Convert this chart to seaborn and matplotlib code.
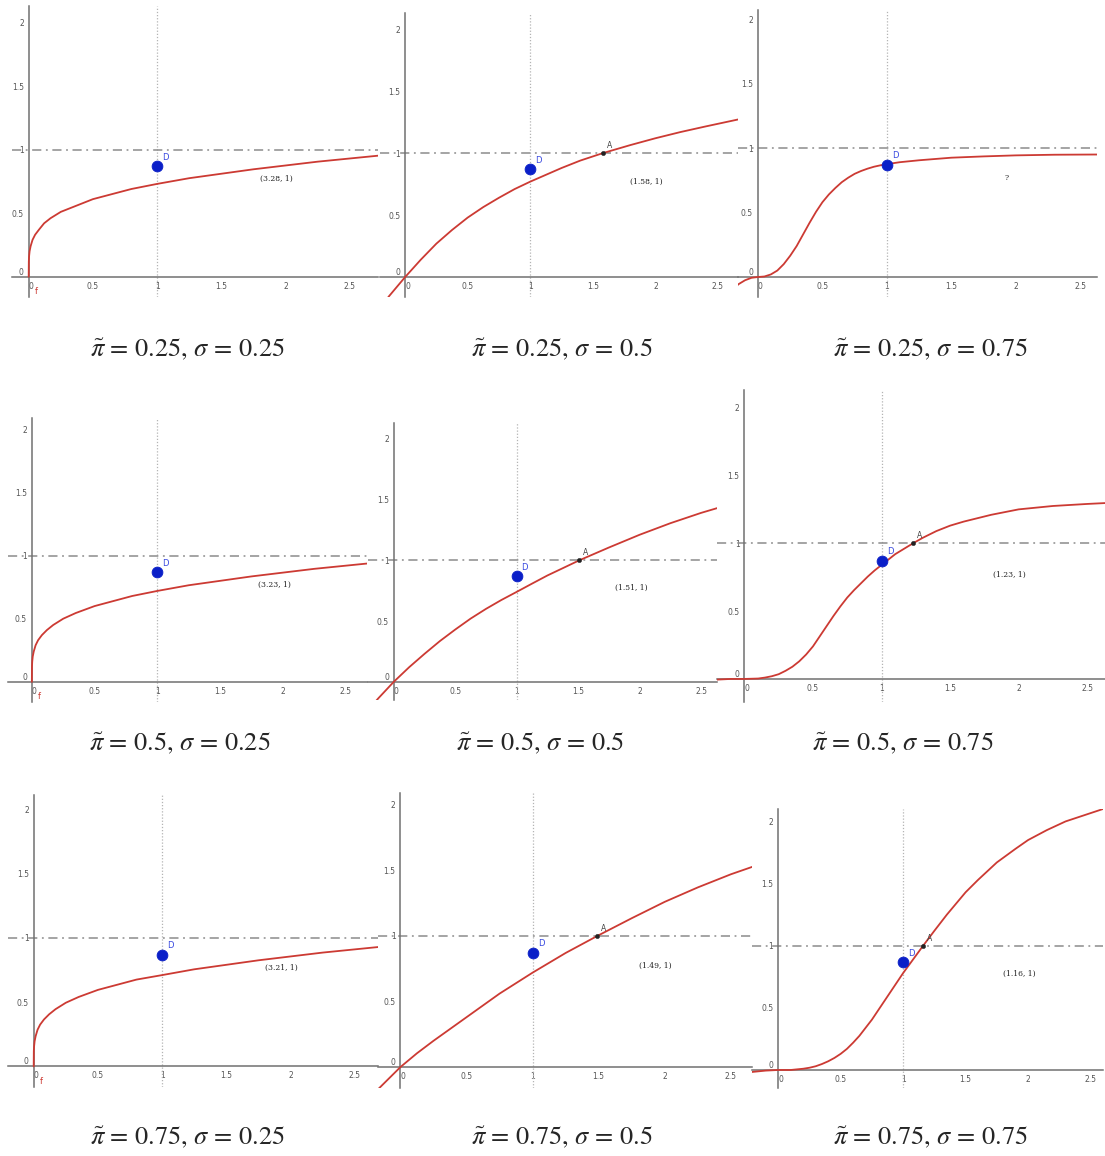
import matplotlib
matplotlib.use("Agg")
import matplotlib.pyplot as plt
import pandas as pd
import seaborn as sns

sns.set_style("white")

# parameter values of the 3x3 grid
pi_values = [0.25, 0.5, 0.75]
sigma_values = [0.25, 0.5, 0.75]

# point D, same in every panel
d_x = 1.0
d_y = 0.87

# x where the curve meets y = 1 (point A), None where not shown
a_x = [[None, 1.58, None],
       [None, 1.51, 1.23],
       [None, 1.49, 1.16]]
cross_labels = [["(3.28, 1)", "(1.58, 1)", "?"],
                ["(3.23, 1)", "(1.51, 1)", "(1.23, 1)"],
                ["(3.21, 1)", "(1.49, 1)", "(1.16, 1)"]]

# curves, sigma = 0.25
x_s25 = [0, 0.001, 0.003, 0.007, 0.015, 0.03, 0.05, 0.08, 0.12, 0.17, 0.25, 0.35, 0.5,
         0.65, 0.8, 1, 1.25, 1.5, 1.75, 2, 2.25, 2.5, 2.75]
y_p25_s25 = [0, 0.12, 0.16, 0.20, 0.24, 0.29, 0.33, 0.37, 0.42, 0.46, 0.51, 0.55, 0.61,
             0.65, 0.69, 0.73, 0.775, 0.81, 0.845, 0.875, 0.905, 0.93, 0.955]
y_p50_s25 = [0, 0.12, 0.16, 0.20, 0.24, 0.29, 0.33, 0.37, 0.41, 0.45, 0.50, 0.545, 0.60,
             0.64, 0.68, 0.72, 0.765, 0.80, 0.835, 0.865, 0.895, 0.92, 0.945]
y_p75_s25 = [0, 0.12, 0.155, 0.195, 0.235, 0.285, 0.325, 0.365, 0.405, 0.445, 0.495, 0.54, 0.595,
             0.635, 0.675, 0.71, 0.755, 0.79, 0.825, 0.855, 0.885, 0.91, 0.935]

# sigma = 0.5
x_p25_s50 = [-0.25, -0.125, 0, 0.125, 0.25, 0.375, 0.5, 0.625, 0.75, 0.875, 1, 1.125,
             1.25, 1.4, 1.58, 1.8, 2, 2.2, 2.4, 2.7]
y_p25_s50 = [-0.31, -0.15, 0, 0.14, 0.27, 0.38, 0.48, 0.565, 0.64, 0.71, 0.77, 0.825,
             0.88, 0.94, 1.0, 1.065, 1.12, 1.17, 1.215, 1.28]
x_p50_s50 = [-0.25, -0.125, 0, 0.125, 0.25, 0.375, 0.5, 0.625, 0.75, 0.875, 1, 1.125,
             1.25, 1.375, 1.51, 1.75, 2, 2.25, 2.5, 2.7]
y_p50_s50 = [-0.28, -0.135, 0, 0.12, 0.23, 0.335, 0.43, 0.52, 0.6, 0.673, 0.74, 0.808,
             0.875, 0.935, 1.0, 1.105, 1.21, 1.305, 1.39, 1.45]
x_p75_s50 = [-0.25, -0.125, 0, 0.125, 0.25, 0.375, 0.5, 0.625, 0.75, 0.875, 1, 1.125,
             1.25, 1.37, 1.49, 1.75, 2, 2.25, 2.5, 2.7]
y_p75_s50 = [-0.25, -0.125, 0, 0.105, 0.2, 0.29, 0.38, 0.47, 0.56, 0.64, 0.72, 0.795,
             0.87, 0.935, 1.0, 1.135, 1.26, 1.37, 1.47, 1.54]

# sigma = 0.75
x_p25_s75 = [-0.2, -0.15, -0.1, -0.05, 0, 0.05, 0.1, 0.15, 0.2, 0.25, 0.3, 0.35, 0.4, 0.45,
             0.5, 0.55, 0.6, 0.65, 0.7, 0.75, 0.8, 0.85, 0.9, 0.95, 1.0, 1.1, 1.25, 1.5,
             1.75, 2.0, 2.3, 2.7]
y_p25_s75 = [-0.1, -0.055, -0.025, -0.006, 0, 0.004, 0.02, 0.05, 0.10, 0.165, 0.24, 0.33,
             0.42, 0.505, 0.58, 0.64, 0.69, 0.735, 0.77, 0.8, 0.822, 0.84, 0.855, 0.866,
             0.875, 0.89, 0.905, 0.925, 0.935, 0.943, 0.948, 0.95]
x_p50_s75 = [-0.2, -0.1, 0, 0.1, 0.15, 0.2, 0.25, 0.3, 0.35, 0.4, 0.45, 0.5, 0.55, 0.6,
             0.65, 0.7, 0.75, 0.8, 0.85, 0.9, 0.95, 1.0, 1.1, 1.23, 1.3, 1.4, 1.5, 1.6,
             1.8, 2.0, 2.25, 2.5, 2.7]
y_p50_s75 = [-0.005, 0, 0, 0.003, 0.01, 0.02, 0.035, 0.06, 0.09, 0.13, 0.18, 0.24, 0.315,
             0.39, 0.465, 0.535, 0.60, 0.655, 0.705, 0.755, 0.80, 0.84, 0.92, 1.0, 1.04,
             1.09, 1.13, 1.16, 1.21, 1.25, 1.275, 1.29, 1.30]
x_p75_s75 = [-0.25, -0.1, 0, 0.1, 0.2, 0.25, 0.3, 0.35, 0.4, 0.45, 0.5, 0.55, 0.6, 0.65,
             0.7, 0.75, 0.8, 0.85, 0.9, 0.95, 1.0, 1.08, 1.16, 1.25, 1.35, 1.5, 1.6, 1.75,
             1.9, 2.0, 2.15, 2.3, 2.45, 2.6]
y_p75_s75 = [-0.02, -0.005, 0, 0, 0.01, 0.018, 0.03, 0.048, 0.07, 0.097, 0.13, 0.17, 0.22,
             0.275, 0.34, 0.405, 0.48, 0.555, 0.63, 0.705, 0.78, 0.89, 1.0, 1.12, 1.25,
             1.43, 1.53, 1.67, 1.78, 1.85, 1.93, 2.0, 2.05, 2.1]

curves = [[(x_s25, y_p25_s25), (x_p25_s50, y_p25_s50), (x_p25_s75, y_p25_s75)],
          [(x_s25, y_p50_s25), (x_p50_s50, y_p50_s50), (x_p50_s75, y_p50_s75)],
          [(x_s25, y_p75_s25), (x_p75_s50, y_p75_s50), (x_p75_s75, y_p75_s75)]]

# layout: panel box in pixels (left, top, right, bottom) and data limits
W, H = 1105, 1156
boxes = [[(12, 6, 378, 297), (380, 13, 738, 297), (738, 10, 1097, 297)],
         [(8, 418, 367, 702), (368, 423, 717, 700), (717, 390, 1105, 702)],
         [(8, 795, 378, 1087), (378, 793, 752, 1088), (752, 809, 1103, 1088)]]
xlims = [[(-0.13, 2.72), (-0.2, 2.66), (-0.155, 2.63)],
         [(-0.19, 2.67), (-0.21, 2.63), (-0.2, 2.63)],
         [(-0.2, 2.68), (-0.17, 2.66), (-0.21, 2.6)]]
ylims = [[(-0.16, 2.13), (-0.16, 2.13), (-0.155, 2.07)],
         [(-0.16, 2.09), (-0.15, 2.13), (-0.17, 2.13)],
         [(-0.16, 2.11), (-0.16, 2.09), (-0.145, 2.1)]]
caption_pos = [[(187, 350), (562, 350), (930, 350)],
               [(180, 744), (540, 744), (903, 744)],
               [(187, 1138), (562, 1138), (930, 1138)]]

RED = "#cc3a33"
AXIS = "#707070"

fig = plt.figure(figsize=(W / 100, H / 100), dpi=100)

for r in range(3):
    for c in range(3):
        left, top, right, bottom = boxes[r][c]
        ax = fig.add_axes([left / W, 1 - bottom / H, (right - left) / W, (bottom - top) / H])
        ax.set_facecolor("none")
        ax.set_xlim(*xlims[r][c])
        ax.set_ylim(*ylims[r][c])

        # geogebra style axes through the origin
        for side in ["top", "right"]:
            ax.spines[side].set_visible(False)
        for side in ["left", "bottom"]:
            ax.spines[side].set_position(("data", 0))
            ax.spines[side].set_color(AXIS)
            ax.spines[side].set_linewidth(1.1)
        ax.set_xticks([0, 0.5, 1, 1.5, 2, 2.5])
        ax.set_yticks([0, 0.5, 1, 1.5, 2])
        ax.set_xticklabels(["0", "0.5", "1", "1.5", "2", "2.5"])
        ax.set_yticklabels(["0", "0.5", "1", "1.5", "2"])
        ax.tick_params(direction="inout", length=3, width=0.6, colors=AXIS,
                       labelsize=5.5, labelcolor="#555555", pad=2)
        ax.get_xticklabels()[0].set_ha("left")
        ax.get_yticklabels()[0].set_va("bottom")

        ax.axvline(1, color="#b4b4b4", lw=0.9, ls=(0, (1, 1.5)), zorder=1)
        ax.axhline(1, color="#8c8c8c", lw=1.1, ls=(0, (6, 3, 1.2, 3)), zorder=1)

        cx, cy = curves[r][c]
        df = pd.DataFrame({"x": cx, "y": cy})
        sns.lineplot(data=df, x="x", y="y", ax=ax, color=RED, lw=1.3,
                     estimator=None, sort=False, zorder=3)

        sns.scatterplot(x=[d_x], y=[d_y], ax=ax, color="#0a1fc8", s=60,
                        edgecolor="#0a1fc8", zorder=5)
        ax.text(d_x + 0.04, d_y + 0.05, "D", color="#3a4ae0", fontsize=6, zorder=6)

        if a_x[r][c] is not None:
            sns.scatterplot(x=[a_x[r][c]], y=[1], ax=ax, color="#222222", s=10,
                            edgecolor="#222222", zorder=5)
            ax.text(a_x[r][c] + 0.03, 1.04, "A", color="#444444", fontsize=5.5, zorder=6)

        if c == 0:
            ax.text(0.05, -0.12, "f", color=RED, fontsize=6, va="center")

        ax.text(1.93, 0.77, cross_labels[r][c], fontsize=5.5, family="DejaVu Serif",
                color="#222222", ha="center", va="center")

        ax.set_xlabel("")
        ax.set_ylabel("")

        px, py = caption_pos[r][c]
        cap = f"$\\tilde{{\\pi}}$ = {pi_values[r]}, $\\sigma$ = {sigma_values[c]}"
        fig.text(px / W, 1 - py / H, cap, fontsize=19, family="STIXGeneral",
                 math_fontfamily="stix", ha="center", va="center")

fig.savefig("out.png", dpi=100)
